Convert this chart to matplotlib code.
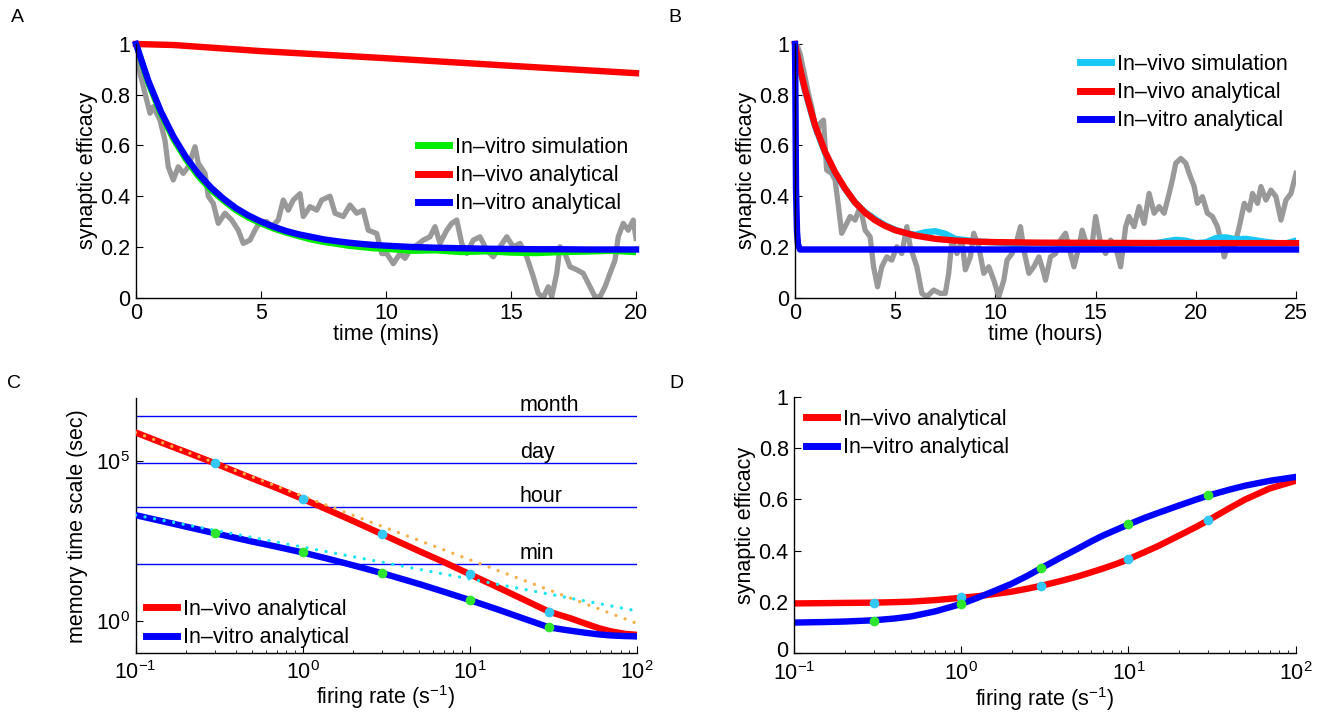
import numpy as np
import matplotlib
matplotlib.use('Agg')
import matplotlib.pyplot as plt
from matplotlib import transforms
from matplotlib.ticker import NullLocator, FixedLocator

plt.rcParams['font.family'] = ['Liberation Sans', 'DejaVu Sans']
plt.rcParams['mathtext.fontset'] = 'custom'
plt.rcParams['mathtext.rm'] = 'Liberation Sans'
plt.rcParams['mathtext.it'] = 'Liberation Sans:italic'
plt.rcParams['mathtext.bf'] = 'Liberation Sans:bold'
plt.rcParams['mathtext.default'] = 'rm'

# ---------------- Panel A data (time in minutes) ----------------
a_gray_t = [0, 0.16, 0.36, 0.56, 0.69, 0.96, 1.16, 1.29, 1.49, 1.69, 1.89, 2.09, 2.36, 2.49, 2.76,
            2.89, 3.09, 3.29, 3.56, 3.83, 4.09, 4.29, 4.56, 4.76, 4.96, 5.23, 5.43, 5.69, 5.89,
            6.09, 6.29, 6.56, 6.69, 6.96, 7.23, 7.43, 7.76, 7.96, 8.29, 8.56, 8.83, 9.09, 9.29,
            9.63, 9.83, 10.03, 10.29, 10.56, 10.76, 10.96, 11.23, 11.49, 11.76, 11.96, 12.16,
            12.43, 12.63, 12.83, 13.03, 13.23, 13.49, 13.76, 14.03, 14.29, 14.56, 14.83, 15.09,
            15.36, 15.63, 15.89, 16.09, 16.29, 16.49, 16.63, 16.83, 16.96, 17.16, 17.36, 17.63,
            17.89, 18.16, 18.36, 18.56, 18.76, 18.96, 19.16, 19.29, 19.49, 19.69, 19.89, 20.0]
a_gray_v = [1.0, 0.885, 0.806, 0.727, 0.753, 0.70, 0.62, 0.516, 0.464, 0.516, 0.49, 0.516, 0.595,
            0.53, 0.49, 0.40, 0.372, 0.293, 0.333, 0.306, 0.266, 0.214, 0.227, 0.266, 0.30, 0.30,
            0.28, 0.306, 0.385, 0.345, 0.385, 0.41, 0.32, 0.359, 0.345, 0.385, 0.40, 0.333, 0.32,
            0.365, 0.333, 0.345, 0.266, 0.253, 0.174, 0.174, 0.134, 0.174, 0.155, 0.188, 0.207,
            0.227, 0.24, 0.28, 0.214, 0.266, 0.293, 0.306, 0.214, 0.174, 0.227, 0.24, 0.188,
            0.161, 0.201, 0.24, 0.201, 0.214, 0.161, 0.083, 0.017, 0.0, 0.043, 0.004, 0.096,
            0.201, 0.174, 0.122, 0.11, 0.096, 0.043, 0.004, 0.004, 0.043, 0.096, 0.148, 0.24,
            0.293, 0.266, 0.306, 0.234]

a_fit_t = [0, 0.5, 1, 1.5, 2, 2.5, 3, 3.5, 4, 4.5, 5, 5.5, 6, 6.5, 7, 7.5, 8, 8.5, 9, 9.5, 10,
           11, 12, 13, 14, 15, 16, 17, 18, 19, 20]
a_invitro_analytical = [1.0, 0.853, 0.733, 0.635, 0.554, 0.488, 0.434, 0.390, 0.353, 0.324, 0.300,
                        0.280, 0.263, 0.250, 0.240, 0.230, 0.223, 0.217, 0.212, 0.208, 0.205,
                        0.200, 0.197, 0.195, 0.193, 0.192, 0.191, 0.191, 0.190, 0.190, 0.190]
a_invitro_simulation = [1.0, 0.845, 0.725, 0.625, 0.545, 0.478, 0.425, 0.383, 0.345, 0.316, 0.293,
                        0.273, 0.257, 0.243, 0.230, 0.220, 0.213, 0.205, 0.200, 0.195, 0.193,
                        0.185, 0.187, 0.180, 0.183, 0.178, 0.176, 0.180, 0.182, 0.185, 0.180]
a_invivo_t = [0, 1.5, 5, 10, 15, 20]
a_invivo_analytical = [1.0, 0.996, 0.972, 0.944, 0.914, 0.885]

# ---------------- Panel B data (time in hours) ----------------
b_gray_t = [0, 0.08, 0.25, 0.5, 0.67, 0.83, 1.08, 1.25, 1.42, 1.58, 1.83, 2.0, 2.17, 2.33, 2.5,
            2.75, 3.0, 3.25, 3.5, 3.75, 3.92, 4.12, 4.33, 4.58, 4.83, 5.08, 5.33, 5.58, 5.75,
            6.08, 6.33, 6.58, 6.92, 7.25, 7.5, 7.67, 7.83, 8.08, 8.33, 8.5, 8.75, 8.92, 9.17,
            9.42, 9.67, 9.92, 10.17, 10.42, 10.58, 10.83, 11.08, 11.25, 11.42, 11.67, 11.92,
            12.17, 12.42, 12.5, 12.75, 13.0, 13.25, 13.5, 13.75, 13.92, 14.17, 14.33, 14.58,
            14.83, 15.0, 15.25, 15.5, 15.75, 16.0, 16.25, 16.5, 16.67, 16.92, 17.17, 17.42,
            17.67, 17.92, 18.17, 18.42, 18.67, 18.83, 19.0, 19.25, 19.5, 19.67, 19.92, 20.08,
            20.33, 20.58, 20.83, 21.08, 21.25, 21.42, 21.67, 21.92, 22.17, 22.42, 22.67, 22.83,
            23.08, 23.25, 23.5, 23.75, 24.0, 24.25, 24.5, 24.75, 25.0]
b_gray_v = [1.0, 1.0, 0.963, 0.87, 0.805, 0.753, 0.648, 0.687, 0.70, 0.503, 0.49, 0.464, 0.359,
            0.254, 0.28, 0.32, 0.306, 0.359, 0.266, 0.24, 0.122, 0.043, 0.122, 0.161, 0.148,
            0.201, 0.174, 0.28, 0.201, 0.122, 0.017, 0.004, 0.03, 0.017, 0.017, 0.096, 0.227,
            0.174, 0.227, 0.11, 0.161, 0.254, 0.201, 0.096, 0.122, 0.069, 0.004, 0.069, 0.148,
            0.174, 0.227, 0.28, 0.188, 0.096, 0.122, 0.161, 0.096, 0.069, 0.161, 0.174, 0.227,
            0.254, 0.174, 0.122, 0.201, 0.266, 0.201, 0.214, 0.32, 0.214, 0.174, 0.227, 0.201,
            0.122, 0.28, 0.32, 0.28, 0.359, 0.293, 0.411, 0.333, 0.359, 0.333, 0.411, 0.464,
            0.53, 0.549, 0.53, 0.49, 0.438, 0.372, 0.398, 0.333, 0.32, 0.28, 0.227, 0.161,
            0.227, 0.201, 0.28, 0.372, 0.345, 0.411, 0.372, 0.438, 0.385, 0.424, 0.398, 0.306,
            0.385, 0.411, 0.49]

b_invivo_t = [0, 0.25, 0.5, 1, 1.5, 2, 2.5, 3, 3.5, 4, 4.5, 5, 6, 7, 8, 9, 10, 12, 15, 20, 25]
b_invivo_analytical = [1.0, 0.905, 0.82, 0.68, 0.575, 0.495, 0.43, 0.375, 0.335, 0.305, 0.283,
                       0.266, 0.245, 0.232, 0.225, 0.221, 0.219, 0.217, 0.216, 0.215, 0.215]
b_sim_t = [0, 0.25, 0.5, 1, 1.5, 2, 2.5, 3, 3.5, 4, 4.5, 5, 5.5, 6, 6.5, 7, 7.5, 8, 9, 10, 11, 12,
           13, 14, 15, 16, 17, 18, 18.5, 19, 19.5, 20, 20.5, 21, 21.5, 22, 22.5, 23, 23.5, 24,
           24.5, 25]
b_invivo_simulation = [1.0, 0.90, 0.815, 0.675, 0.57, 0.49, 0.428, 0.375, 0.337, 0.31, 0.285,
                       0.268, 0.255, 0.248, 0.258, 0.262, 0.252, 0.232, 0.222, 0.218, 0.212,
                       0.215, 0.214, 0.21, 0.212, 0.208, 0.214, 0.215, 0.222, 0.228, 0.225,
                       0.215, 0.218, 0.235, 0.238, 0.23, 0.232, 0.226, 0.22, 0.215, 0.214, 0.225]
b_invitro_t = [0, 0.02, 0.05, 0.1, 0.15, 0.25, 25]
b_invitro_analytical = [1.0, 0.81, 0.43, 0.26, 0.21, 0.19, 0.19]

# ---------------- Panel C data (firing rate, log10 of timescale in sec) ----------------
c_rate = [0.1, 0.15, 0.2, 0.3, 0.5, 0.7, 1, 1.5, 2, 3, 5, 7, 10, 15, 20, 30, 40, 50, 60, 70, 85, 100]
c_invivo_log10 = [5.9, 5.54, 5.29, 4.93, 4.46, 4.16, 3.82, 3.42, 3.13, 2.71, 2.18, 1.84, 1.46,
                  1.03, 0.72, 0.28, 0.08, -0.10, -0.24, -0.33, -0.41, -0.44]
c_invitro_log10 = [3.31, 3.10, 2.95, 2.74, 2.48, 2.32, 2.14, 1.91, 1.74, 1.49, 1.15, 0.91, 0.65,
                   0.34, 0.11, -0.21, -0.31, -0.38, -0.43, -0.46, -0.48, -0.49]
c_asym_rate = [0.1, 100]
c_invivo_asym_log10 = [5.9, -0.08]
c_invitro_asym_log10 = [3.31, 0.31]
c_dot_rate = [0.3, 1, 3, 10, 30]
c_invivo_dots_log10 = [4.93, 3.82, 2.71, 1.46, 0.28]
c_invitro_dots_log10 = [2.74, 2.14, 1.49, 0.65, -0.21]
timescale_labels = ['min', 'hour', 'day', 'month']
timescale_seconds = [60, 3600, 86400, 2592000]

# ---------------- Panel D data ----------------
d_rate = [0.1, 0.15, 0.2, 0.3, 0.4, 0.5, 0.7, 1, 1.25, 1.5, 2, 2.5, 3, 4, 5, 6, 7, 8.5, 10,
          12.5, 15, 20, 25, 30, 40, 50, 70, 100]
d_invivo = [0.193, 0.194, 0.195, 0.196, 0.198, 0.200, 0.206, 0.215, 0.221, 0.228, 0.239, 0.251,
            0.262, 0.282, 0.299, 0.315, 0.329, 0.348, 0.366, 0.394, 0.417, 0.458, 0.490, 0.518,
            0.565, 0.600, 0.643, 0.673]
d_invitro = [0.118, 0.120, 0.122, 0.127, 0.134, 0.142, 0.162, 0.191, 0.215, 0.236, 0.270, 0.302,
             0.331, 0.375, 0.408, 0.436, 0.458, 0.482, 0.502, 0.528, 0.547, 0.576, 0.598, 0.615,
             0.638, 0.654, 0.673, 0.688]
d_dot_rate = [0.3, 1, 3, 10, 30]
d_invivo_dots = [0.196, 0.217, 0.263, 0.366, 0.518]
d_invitro_dots = [0.126, 0.191, 0.331, 0.502, 0.616]

# ---------------- styles ----------------
RED = '#ff0000'
BLUE = '#0000ff'
GREEN = '#00ee00'
CYAN = '#1ac8f5'
GRAY = '#999999'
ORANGE = '#f5b04a'
CYAN_DOT = '#19e6f0'
DOT_CYAN = '#33c8f5'
DOT_GREEN = '#2ee62e'
LW = 4.6
FS = 15.5

fig = plt.figure(figsize=(13.23, 7.2), dpi=100)
W, H = 1323.0, 720.0


def px_axes(l, r, top, bottom):
    return fig.add_axes([l / W, 1 - bottom / H, (r - l) / W, (bottom - top) / H])


def style(ax, xpad=4):
    for s in ['top', 'right']:
        ax.spines[s].set_visible(False)
    ax.spines['left'].set_linewidth(1.0)
    ax.spines['bottom'].set_linewidth(1.0)
    ax.tick_params(which='major', direction='in', length=5, width=0.8, pad=4, labelsize=FS)
    ax.tick_params(axis='x', which='major', pad=xpad)
    ax.tick_params(which='minor', direction='in', length=2.5, width=0.6)


def legend(ax, x, y, spacing=0.33):
    lg = ax.legend(loc='upper left', bbox_to_anchor=(x / W, 1 - y / H), bbox_transform=fig.transFigure,
                   frameon=False, fontsize=FS, handlelength=1.45, handletextpad=0.25,
                   labelspacing=spacing, borderpad=0, borderaxespad=0)
    for l in lg.get_lines():
        l.set_linewidth(5)
    return lg


# Panel A
axA = px_axes(136, 636, 44, 297.7)
axA.plot(a_gray_t, a_gray_v, color=GRAY, lw=3.8, solid_joinstyle='round')
axA.plot(a_fit_t, a_invitro_simulation, color=GREEN, lw=LW, label='In–vitro simulation')
axA.plot(a_invivo_t, a_invivo_analytical, color=RED, lw=LW, label='In–vivo analytical', clip_on=False)
axA.plot(a_fit_t, a_invitro_analytical, color=BLUE, lw=LW, label='In–vitro analytical', clip_on=False)
axA.set_xlim(0, 20)
axA.set_ylim(0, 1)
axA.set_xticks([0, 5, 10, 15, 20])
axA.set_yticks([0, 0.2, 0.4, 0.6, 0.8, 1])
axA.set_yticklabels(['0', '0.2', '0.4', '0.6', '0.8', '1'])
style(axA)
axA.set_xlabel('time (mins)', fontsize=FS, labelpad=0)
axA.set_ylabel('synaptic efficacy', fontsize=FS, labelpad=2)
legend(axA, 418, 137)

# Panel B
axB = px_axes(795, 1296, 44, 297.7)
axB.plot(b_gray_t, b_gray_v, color=GRAY, lw=3.8, solid_joinstyle='round')
axB.plot(b_sim_t, b_invivo_simulation, color=CYAN, lw=LW, label='In–vivo simulation')
axB.plot(b_invivo_t, b_invivo_analytical, color=RED, lw=LW, label='In–vivo analytical', clip_on=False)
axB.plot(b_invitro_t, b_invitro_analytical, color=BLUE, lw=LW, label='In–vitro analytical', clip_on=False)
axB.set_xlim(0, 25)
axB.set_ylim(0, 1)
axB.set_xticks([0, 5, 10, 15, 20, 25])
axB.set_yticks([0, 0.2, 0.4, 0.6, 0.8, 1])
axB.set_yticklabels(['0', '0.2', '0.4', '0.6', '0.8', '1'])
style(axB)
axB.set_xlabel('time (hours)', fontsize=FS, labelpad=0)
axB.set_ylabel('synaptic efficacy', fontsize=FS, labelpad=2)
legend(axB, 1080, 54)

# Panel C
axC = px_axes(135.5, 636.7, 398.3, 653)
axC.set_xscale('log')
axC.set_yscale('log')
for v in timescale_seconds:
    axC.axhline(v, color=BLUE, lw=1.0, zorder=1)
off = transforms.offset_copy(axC.transData, fig=fig, x=0, y=3.5, units='points')
for lab, v in zip(timescale_labels, timescale_seconds):
    axC.text(20, v, lab, transform=off, fontsize=FS, ha='left', va='baseline')
axC.plot(c_rate, 10 ** np.array(c_invivo_log10), color=RED, lw=LW, label='In–vivo analytical', zorder=3)
axC.plot(c_rate, 10 ** np.array(c_invitro_log10), color=BLUE, lw=LW, label='In–vitro analytical', zorder=3)
axC.plot(c_asym_rate, 10 ** np.array(c_invivo_asym_log10), color=ORANGE, lw=2.4,
         linestyle=(0, (0.01, 2.9)), dash_capstyle='round', zorder=4)
axC.plot(c_asym_rate, 10 ** np.array(c_invitro_asym_log10), color=CYAN_DOT, lw=2.4,
         linestyle=(0, (0.01, 2.9)), dash_capstyle='round', zorder=4)
axC.plot(c_dot_rate, 10 ** np.array(c_invivo_dots_log10), 'o', color=DOT_CYAN, ms=7, mec='none', zorder=5)
axC.plot(c_dot_rate, 10 ** np.array(c_invitro_dots_log10), 'o', color=DOT_GREEN, ms=7, mec='none', zorder=5)
axC.set_xlim(0.1, 100)
axC.set_ylim(10 ** -1.01, 10 ** 6.97)
axC.set_xticks([0.1, 1, 10, 100])
axC.set_xticklabels([r'$10^{-1}$', r'$10^{0}$', r'$10^{1}$', r'$10^{2}$'])
axC.yaxis.set_major_locator(FixedLocator([1, 1e5]))
axC.set_yticklabels([r'$10^{0}$', r'$10^{5}$'])
axC.yaxis.set_minor_locator(NullLocator())
style(axC, xpad=5.5)
axC.set_xlabel(r'firing rate (s$^{-1}$)', fontsize=FS, labelpad=0)
axC.set_ylabel('memory time scale (sec)', fontsize=FS, labelpad=6)
legend(axC, 146, 599)

# Panel D
axD = px_axes(794.3, 1295.5, 397.3, 652.7)
axD.set_xscale('log')
axD.plot(d_rate, d_invivo, color=RED, lw=LW, label='In–vivo analytical')
axD.plot(d_rate, d_invitro, color=BLUE, lw=LW, label='In–vitro analytical')
axD.plot(d_dot_rate, d_invivo_dots, 'o', color=DOT_CYAN, ms=7, mec='none', zorder=5)
axD.plot(d_dot_rate, d_invitro_dots, 'o', color=DOT_GREEN, ms=7, mec='none', zorder=5)
axD.set_xlim(0.1, 100)
axD.set_ylim(0, 1)
axD.set_xticks([0.1, 1, 10, 100])
axD.set_xticklabels([r'$10^{-1}$', r'$10^{0}$', r'$10^{1}$', r'$10^{2}$'])
axD.set_yticks([0, 0.2, 0.4, 0.6, 0.8, 1])
axD.set_yticklabels(['0', '0.2', '0.4', '0.6', '0.8', '1'])
style(axD, xpad=6.5)
# nudge the bottom "0" label slightly up so it does not collide with 10^-1
zero_lab = axD.get_yticklabels()[0]
zero_lab.set_transform(zero_lab.get_transform() +
                       transforms.ScaledTranslation(0, 2.5 / 72, fig.dpi_scale_trans))
axD.set_xlabel(r'firing rate (s$^{-1}$)', fontsize=FS, labelpad=0)
axD.set_ylabel('synaptic efficacy', fontsize=FS, labelpad=2)
legend(axD, 806, 409)

# Panel letters
for lab, x, y in [('A', 17, 18), ('B', 675, 18), ('C', 14, 383), ('D', 676, 383)]:
    fig.text(x / W, 1 - y / H, lab, fontsize=14, ha='center', va='center')

fig.savefig('out.png', dpi=100)
